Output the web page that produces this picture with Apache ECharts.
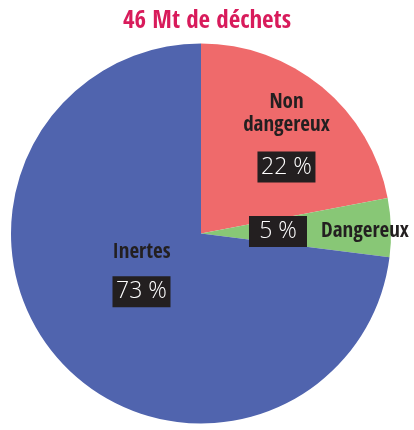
<!DOCTYPE html>
<html>
<head>
<meta charset="utf-8">
<script src="https://cdn.jsdelivr.net/npm/echarts@6/dist/echarts.min.js"></script>
<style>
html,body{margin:0;padding:0;background:#fff;}
#chart{width:414px;height:430px;}
</style>
</head>
<body>
<div id="chart"></div>
<script>
const titleText = '46 Mt de déchets';
const categories = ['Non\ndangereux', 'Dangereux', 'Inertes'];
const shares = [22, 5, 73];
const colors = ['#EF6A6B', '#88C776', '#5064AE'];

const condensed = "'Open Sans Condensed', 'Roboto Condensed', sans-serif";
const labelOffsets = [[23, -14], [30, 1], [14, -18]];

const chart = echarts.init(document.getElementById('chart'), null, {renderer: 'canvas'});

function fmt(p) {
  const nameLines = p.name.split('\n').map(s => '{n|' + s + '}').join('\n');
  const pct = p.value + ' %';
  if (p.dataIndex === 1) {
    return '{p|' + pct + '}{n2|' + p.name + '}';
  }
  const key = p.dataIndex === 0 ? 'p1' : 'p3';
  return nameLines + '\n{' + key + '|' + pct + '}';
}

const boxStyle = {
  color: '#ffffff',
  backgroundColor: '#231F20',
  fontFamily: "'Open Sans', 'Noto Sans', sans-serif",
  fontSize: 23,
  fontWeight: 300,
  width: 48,
  height: 21,
  align: 'center',
  padding: [5, 5, 5, 5]
};

chart.setOption({
  animation: false,
  title: {
    text: titleText,
    left: 'center',
    top: 9,
    padding: 0,
    textStyle: {
      color: '#D81B5B',
      fontFamily: condensed,
      fontWeight: 'bold',
      fontSize: 25
    }
  },
  series: [{
    type: 'pie',
    center: [201, 233.5],
    radius: 190,
    startAngle: 90,
    clockwise: true,
    silent: true,
    emphasis: {disabled: true},
    labelLine: {show: false},
    itemStyle: {borderWidth: 0},
    label: {
      show: true,
      position: 'inside',
      formatter: fmt,
      rich: {
        n: {fontFamily: condensed, fontWeight: 'bold', fontSize: 21, color: '#231F20', lineHeight: 23},
        n2: {fontFamily: condensed, fontWeight: 'bold', fontSize: 21, color: '#231F20', padding: [0, 0, 0, 14]},
        p: Object.assign({}, boxStyle, {lineHeight: 31}),
        p1: Object.assign({}, boxStyle, {lineHeight: 60}),
        p3: Object.assign({}, boxStyle, {lineHeight: 55})
      }
    },
    labelLayout: function (params) {
      const o = labelOffsets[params.dataIndex];
      return {dx: o[0], dy: o[1]};
    },
    data: categories.map((c, i) => ({name: c, value: shares[i], itemStyle: {color: colors[i]}}))
  }]
});
</script>
</body>
</html>
